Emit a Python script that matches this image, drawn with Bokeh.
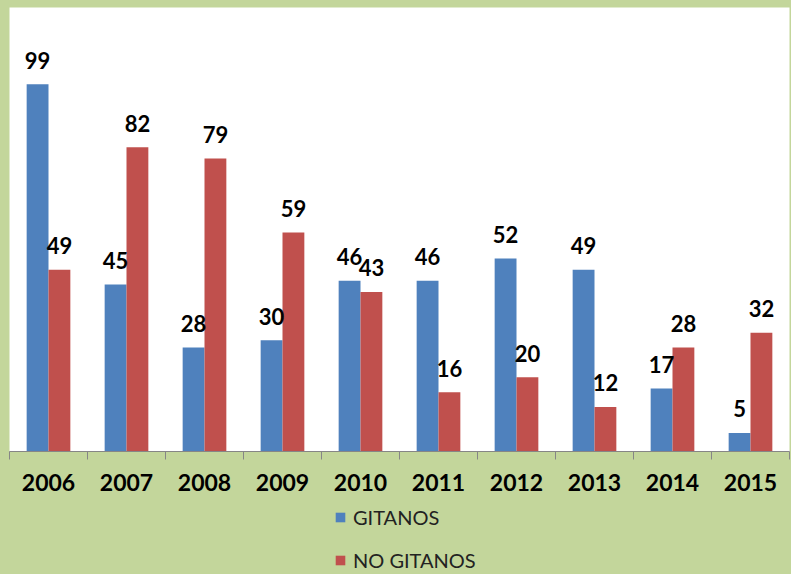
from bokeh.plotting import figure
from bokeh.layouts import column
from bokeh.models import ColumnDataSource, FixedTicker, Legend, LegendItem, Range1d
from bokeh.core.properties import value
from bokeh.transform import dodge
from bokeh.embed import file_html
from bokeh.resources import INLINE

years = ["2006", "2007", "2008", "2009", "2010", "2011", "2012", "2013", "2014", "2015"]
gitanos = [99, 45, 28, 30, 46, 46, 52, 49, 17, 5]
no_gitanos = [49, 82, 79, 59, 43, 16, 20, 12, 28, 32]
series_names = ["GITANOS", "NO GITANOS"]

BLUE = "#4f81bd"
RED = "#c0504d"
GREEN = "#c3d69b"

pos = list(range(1, len(years) + 1))
src = ColumnDataSource(dict(x=pos, g=gitanos, n=no_gitanos,
                            gl=[str(v) for v in gitanos], nl=[str(v) for v in no_gitanos]))

W = 791
TOP = 7
FRAME_H = 444
H1 = 500
H2 = 74
p = figure(width=W, height=H1, output_backend="svg", toolbar_location=None,
           x_range=Range1d(0.5, len(years) + 0.5), y_range=Range1d(0, FRAME_H / 3.71),
           y_axis_location=None, min_border_left=9, min_border_right=2, min_border_top=TOP,
           min_border_bottom=H1 - FRAME_H - TOP)
p.background_fill_color = "white"
p.border_fill_color = GREEN
p.outline_line_color = None
p.xgrid.visible = False
p.ygrid.visible = False

bw = 0.28
rg = p.vbar(x=dodge("x", -bw / 2, range=p.x_range), top="g", width=bw, source=src,
            fill_color=BLUE, line_color=None)
rn = p.vbar(x=dodge("x", bw / 2, range=p.x_range), top="n", width=bw, source=src,
            fill_color=RED, line_color=None)

lab = dict(text_font=value("Lato"), text_font_style="bold", text_font_size="22px",
           text_color="black", text_align="center", text_baseline="middle", y_offset=-24)
p.text(x=dodge("x", -bw / 2, range=p.x_range), y="g", text="gl", source=src, **lab)
p.text(x=dodge("x", bw / 2, range=p.x_range), y="n", text="nl", source=src, **lab)

ax = p.xaxis[0]
ax.ticker = FixedTicker(ticks=pos, minor_ticks=[i + 0.5 for i in range(len(years) + 1)])
ax.major_label_overrides = {i: y for i, y in zip(pos, years)}
ax.major_tick_out = 0
ax.major_tick_in = 0
ax.minor_tick_out = 8
ax.minor_tick_in = 0
ax.minor_tick_line_color = "#868686"
ax.axis_line_color = "#868686"
ax.major_label_standoff = 14
ax.major_label_text_font = "Lato"
ax.major_label_text_font_style = "bold"
ax.major_label_text_font_size = "23px"
ax.major_label_text_color = "black"

# legend strip (same series, drawn far out of view so only legend swatches show)
q = figure(width=W, height=H2, output_backend="svg", toolbar_location=None,
           x_range=Range1d(5000, 5001), y_range=Range1d(5000, 5001),
           x_axis_location=None, y_axis_location=None,
           min_border_left=0, min_border_right=0, min_border_top=0, min_border_bottom=0)
q.background_fill_color = GREEN
q.border_fill_color = GREEN
q.outline_line_color = None
q.xgrid.visible = False
q.ygrid.visible = False
lg = q.vbar(x="x", top="g", width=bw, source=src, fill_color=BLUE, line_color=None)
ln = q.vbar(x="x", top="n", width=bw, source=src, fill_color=RED, line_color=None)

legend = Legend(items=[LegendItem(label=series_names[0], renderers=[lg]),
                       LegendItem(label=series_names[1], renderers=[ln])],
                location=(325, 2), orientation="vertical")
legend.padding = 0
legend.margin = 0
legend.border_line_color = None
legend.background_fill_alpha = 0
legend.glyph_width = 12
legend.glyph_height = 12
legend.label_height = 18
legend.spacing = 19
legend.label_standoff = 7
legend.label_text_font = "Lato"
legend.label_text_font_size = "20px"
legend.label_text_color = "#222222"
q.add_layout(legend, "center")

layout = column(p, q, spacing=0)
html = file_html(layout, INLINE)
html = html.replace("<head>", "<head><style>body{background:%s;}</style>" % GREEN, 1)
open("out.html", "w").write(html)
